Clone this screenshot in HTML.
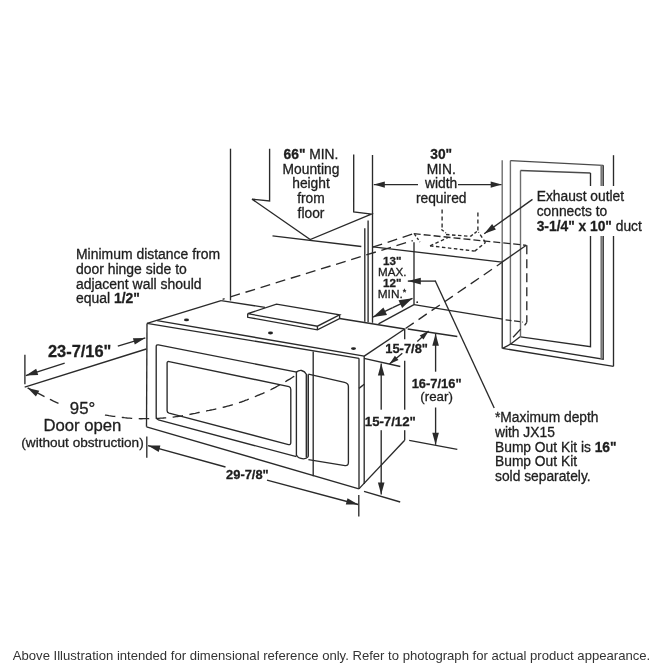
<!DOCTYPE html>
<html><head><meta charset="utf-8"><style>
html,body{margin:0;padding:0;background:#fff;}
svg{display:block;filter:grayscale(1);}
text{font-family:"Liberation Sans",sans-serif;fill:#1e1e1e;stroke:#1e1e1e;stroke-width:0.3px;}
</style></head><body>
<svg width="665" height="665" viewBox="0 0 665 665">
<rect width="665" height="665" fill="#fff"/>
<path d="M230.5,148.7 L230.5,300.5" stroke="#2a2a2a" stroke-width="1.35" fill="none"/>
<path d="M269.6,148.7 L269.6,200.9 L252.0,199.1 L310.2,239.5 L371.4,214.0 L353.7,211.9 L353.7,154.6" stroke="#2a2a2a" stroke-width="1.35" fill="none"/>
<path d="M272.5,235.8 L361.3,246.5" stroke="#2a2a2a" stroke-width="1.35" fill="none"/>
<path d="M364.8,228.3 L364.8,321.7" stroke="#2a2a2a" stroke-width="1.35" fill="none"/>
<path d="M368.1,220.5 L368.1,322.2" stroke="#2a2a2a" stroke-width="1.35" fill="none"/>
<path d="M372.5,155.0 L372.5,322.8" stroke="#2a2a2a" stroke-width="1.35" fill="none"/>
<text x="311" y="158.5" text-anchor="middle" style="font-size:13.8px;font-weight:400"><tspan font-weight="700">66"</tspan> MIN.</text>
<text x="311" y="173.5" text-anchor="middle" style="font-size:13.8px;font-weight:400">Mounting</text>
<text x="311" y="188.3" text-anchor="middle" style="font-size:13.8px;font-weight:400">height</text>
<text x="311" y="203" text-anchor="middle" style="font-size:13.8px;font-weight:400">from</text>
<text x="311" y="217.7" text-anchor="middle" style="font-size:13.8px;font-weight:400">floor</text>
<path d="M418.0,184.6 L373.8,184.6" stroke="#2a2a2a" stroke-width="1.35" fill="none"/>
<path d="M373.8,184.6 L384.8,181.5 L384.8,187.7 Z" fill="#2a2a2a" stroke="none"/>
<path d="M458.0,184.6 L501.7,184.6" stroke="#2a2a2a" stroke-width="1.35" fill="none"/>
<path d="M501.7,184.6 L490.7,187.7 L490.7,181.5 Z" fill="#2a2a2a" stroke="none"/>
<path d="M502.2,160.3 L502.2,262.1" stroke="#6e6e6e" stroke-width="1.4" fill="none"/>
<path d="M502.2,262.1 L502.2,348.4" stroke="#2a2a2a" stroke-width="1.35" fill="none"/>
<text x="441.2" y="158.8" text-anchor="middle" style="font-size:13.8px;font-weight:700">30"</text>
<text x="441.2" y="173.8" text-anchor="middle" style="font-size:13.8px;font-weight:400">MIN.</text>
<text x="441.2" y="188.3" text-anchor="middle" style="font-size:13.8px;font-weight:400">width</text>
<text x="441.2" y="203.2" text-anchor="middle" style="font-size:13.8px;font-weight:400">required</text>
<path d="M510.4,344.2 L510.4,160.6" stroke="#6e6e6e" stroke-width="1.4" fill="none"/>
<path d="M510.4,160.6 L603.2,165.3" stroke="#4a4a4a" stroke-width="1.35" fill="none"/>
<path d="M603.2,165.3 L603.2,359.1 L510.4,344.2" stroke="#2a2a2a" stroke-width="1.35" fill="none"/>
<path d="M601.5,165.2 L601.5,358.8" stroke="#777" stroke-width="2.2" fill="none"/>
<path d="M520.5,336.8 L520.5,170.5" stroke="#6e6e6e" stroke-width="1.4" fill="none"/>
<path d="M520.5,170.5 L590.5,173.0" stroke="#4a4a4a" stroke-width="1.35" fill="none"/>
<path d="M590.5,173.0 L590.5,346.7 L520.5,336.8" stroke="#2a2a2a" stroke-width="1.35" fill="none"/>
<path d="M613.5,155.2 L613.5,366.3" stroke="#2a2a2a" stroke-width="1.35" fill="none"/>
<path d="M502.6,348.4 L613.5,366.3" stroke="#2a2a2a" stroke-width="1.35" fill="none"/>
<path d="M502.6,348.4 L510.4,344.2" stroke="#2a2a2a" stroke-width="1.35" fill="none"/>
<path d="M510.4,344.2 L520.1,336.8" stroke="#2a2a2a" stroke-width="1.35" fill="none"/>
<rect x="534" y="186" width="131" height="50" fill="#fff"/>
<text x="536.7" y="201" text-anchor="start" style="font-size:13.8px;font-weight:400">Exhaust outlet</text>
<text x="536.7" y="215.8" text-anchor="start" style="font-size:13.8px;font-weight:400">connects to</text>
<text x="536.7" y="231" text-anchor="start" style="font-size:13.8px;font-weight:400"><tspan font-weight="700">3-1/4" x 10"</tspan> duct</text>
<path d="M532.5,199.4 L484.2,233.7" stroke="#2a2a2a" stroke-width="1.35" fill="none"/>
<path d="M484.2,233.7 L492.1,224.1 L495.9,229.4 Z" fill="#2a2a2a" stroke="none"/>
<path d="M372.6,247.2 L413.7,233.7" stroke="#2a2a2a" stroke-width="1.35" fill="none" stroke-dasharray="10,5.8"/>
<path d="M413.7,233.7 L526.3,245.3" stroke="#2a2a2a" stroke-width="1.35" fill="none" stroke-dasharray="7,3"/>
<path d="M230.4,296.9 L412.8,240.6" stroke="#2a2a2a" stroke-width="1.35" fill="none" stroke-dasharray="10,5.8"/>
<path d="M222.6,299.3 L224.6,298.7" stroke="#2a2a2a" stroke-width="1.35" fill="none"/>
<path d="M414.5,234.2 L420.0,242.0" stroke="#2a2a2a" stroke-width="1.35" fill="none" stroke-dasharray="2.5,2"/>
<path d="M373.0,246.9 L502.0,262.1" stroke="#2a2a2a" stroke-width="1.35" fill="none"/>
<path d="M502.0,262.1 L526.3,245.3" stroke="#2a2a2a" stroke-width="1.35" fill="none"/>
<path d="M526.8,245.3 L526.8,322.3" stroke="#2a2a2a" stroke-width="1.35" fill="none" stroke-dasharray="9,5"/>
<path d="M526.8,322.3 L524.6,325.4" stroke="#2a2a2a" stroke-width="1.35" fill="none"/>
<path d="M414.0,242.3 L414.0,304.8" stroke="#2a2a2a" stroke-width="1.35" fill="none"/>
<path d="M378.5,323.8 L414.0,304.6" stroke="#2a2a2a" stroke-width="1.35" fill="none"/>
<path d="M414.0,304.6 L502.6,319.2" stroke="#2a2a2a" stroke-width="1.35" fill="none"/>
<path d="M505.6,319.8 L523.0,322.1" stroke="#2a2a2a" stroke-width="1.35" fill="none" stroke-dasharray="6,2.5"/>
<path d="M513.1,337.2 L520.6,329.1" stroke="#2a2a2a" stroke-width="1.35" fill="none"/>
<path d="M405.5,328.5 L502.2,262.3" stroke="#2a2a2a" stroke-width="1.35" fill="none" stroke-dasharray="10,5.8"/>
<path d="M442.1,209.5 L442.1,229.5" stroke="#2a2a2a" stroke-width="1.35" fill="none" stroke-dasharray="4,3"/>
<path d="M477.9,212.6 L477.9,231.2" stroke="#2a2a2a" stroke-width="1.35" fill="none" stroke-dasharray="4,3"/>
<path d="M441.4,229.5 L446.0,233.0" stroke="#2a2a2a" stroke-width="1.35" fill="none" stroke-dasharray="3,2"/>
<path d="M446.0,234.5 L470.5,236.4" stroke="#2a2a2a" stroke-width="1.35" fill="none" stroke-dasharray="3.5,2.5"/>
<path d="M470.5,236.4 L477.5,231.0" stroke="#2a2a2a" stroke-width="1.35" fill="none" stroke-dasharray="3,2"/>
<path d="M430.0,245.8 L448.0,237.5" stroke="#2a2a2a" stroke-width="1.35" fill="none" stroke-dasharray="3.5,2.5"/>
<path d="M430.0,245.8 L474.7,251.1" stroke="#2a2a2a" stroke-width="1.35" fill="none" stroke-dasharray="3.5,2.5"/>
<path d="M474.7,251.1 L485.5,242.5" stroke="#2a2a2a" stroke-width="1.35" fill="none" stroke-dasharray="3.5,2.5"/>
<path d="M485.5,242.5 L478.5,232.0" stroke="#2a2a2a" stroke-width="1.35" fill="none" stroke-dasharray="3.5,2.5"/>
<text x="392.2" y="264.7" text-anchor="middle" style="font-size:11.6px;font-weight:700">13"</text>
<text x="392.2" y="275.8" text-anchor="middle" style="font-size:11.6px;font-weight:400">MAX.</text>
<text x="392.2" y="286.9" text-anchor="middle" style="font-size:11.6px;font-weight:700">12"</text>
<text x="392" y="297.7" text-anchor="middle" style="font-size:11.8px;font-weight:400">MIN.<tspan style="font-size:9px" dy="-2.5">*</tspan></text>
<path d="M435.8,281.1 L407.8,281.1" stroke="#2a2a2a" stroke-width="1.35" fill="none"/>
<path d="M407.8,281.1 L420.8,277.8 L420.8,284.4 Z" fill="#2a2a2a" stroke="none"/>
<path d="M435.2,280.7 L494.2,408.0" stroke="#2a2a2a" stroke-width="1.35" fill="none"/>
<path d="M392.7,307.7 L373.0,317.1" stroke="#2a2a2a" stroke-width="1.35" fill="none"/>
<path d="M373.0,317.1 L383.4,307.5 L387.0,315.1 Z" fill="#2a2a2a" stroke="none"/>
<path d="M392.7,307.7 L412.5,298.3" stroke="#2a2a2a" stroke-width="1.35" fill="none"/>
<path d="M412.5,298.3 L402.1,307.9 L398.5,300.3 Z" fill="#2a2a2a" stroke="none"/>
<circle cx="417.2" cy="302.2" r="0.9" fill="#222"/>
<text x="76" y="259.2" text-anchor="start" style="font-size:13.95px;font-weight:400">Minimum distance from</text>
<text x="76" y="273.9" text-anchor="start" style="font-size:13.95px;font-weight:400">door hinge side to</text>
<text x="76" y="288.5" text-anchor="start" style="font-size:13.95px;font-weight:400">adjacent wall should</text>
<text x="76" y="303.1" text-anchor="start" style="font-size:13.95px;font-weight:400">equal <tspan font-weight="700">1/2"</tspan></text>
<path d="M147.0,323.4 L221.1,300.7" stroke="#2a2a2a" stroke-width="1.35" fill="none"/>
<path d="M221.1,300.7 L265.0,307.3" stroke="#2a2a2a" stroke-width="1.35" fill="none"/>
<path d="M339.6,318.5 L404.7,329.0" stroke="#2a2a2a" stroke-width="1.35" fill="none"/>
<path d="M364.2,356.1 L404.7,329.0" stroke="#2a2a2a" stroke-width="1.35" fill="none"/>
<path d="M147.0,323.4 L359.0,358.3" stroke="#2a2a2a" stroke-width="1.35" fill="none"/>
<path d="M157.1,320.6 L364.2,356.1" stroke="#2a2a2a" stroke-width="1.35" fill="none"/>
<path d="M147.0,323.4 L146.5,426.8" stroke="#2a2a2a" stroke-width="1.35" fill="none"/>
<path d="M146.5,426.8 L358.9,488.9" stroke="#2a2a2a" stroke-width="1.35" fill="none"/>
<path d="M359.0,358.3 L359.0,488.9" stroke="#2a2a2a" stroke-width="1.35" fill="none"/>
<path d="M364.2,356.1 L364.2,484.0" stroke="#2a2a2a" stroke-width="1.35" fill="none"/>
<path d="M404.7,329.0 L404.7,339.2" stroke="#2a2a2a" stroke-width="1.35" fill="none"/>
<path d="M404.7,360.8 L404.7,440.3" stroke="#2a2a2a" stroke-width="1.35" fill="none"/>
<path d="M404.7,440.3 L358.9,488.9" stroke="#2a2a2a" stroke-width="1.35" fill="none"/>
<path d="M247.7,313.7 L276.5,304.1 L339.6,314.9 L317.4,326.2 Z" stroke="#2a2a2a" stroke-width="1.35" fill="none"/>
<path d="M247.7,313.7 L247.7,317.3 L317.4,329.8 L339.6,318.5 L339.6,314.9" stroke="#2a2a2a" stroke-width="1.35" fill="none"/>
<path d="M317.4,326.2 L317.4,329.8" stroke="#2a2a2a" stroke-width="1.35" fill="none"/>
<ellipse cx="186.5" cy="319.9" rx="2.5" ry="1.4" fill="#222"/>
<ellipse cx="270.5" cy="333" rx="2.5" ry="1.4" fill="#222"/>
<ellipse cx="353.5" cy="348.6" rx="2.5" ry="1.4" fill="#222"/>
<path d="M156.2,346.5 Q156.2,344.5 158.4,344.9 L296.8,372.1 M156.2,346.5 L156.2,417.3 Q156.2,419.3 158.4,419.9 L296.4,456.7" stroke="#2a2a2a" stroke-width="1.35" fill="none"/>
<path d="M167.1,363 Q167.1,361.2 169.1,361.6 L289,386.6 Q290.8,387.2 290.8,389.5 L290.8,442.5 Q290.8,445 288.5,444.6 L169.1,413.2 Q167.1,412.6 167.1,410.8 Z" stroke="#2a2a2a" stroke-width="1.35" fill="none"/>
<rect x="306.3" y="374.5" width="2" height="82" fill="#c8c8c8"/>
<path d="M296.4,456 L296.4,372.1 Q299,370 301.6,370.5 Q305,371.5 306.3,374.2 L306.3,457.5" stroke="#2a2a2a" stroke-width="1.35" fill="none"/>
<path d="M296.4,455 Q298,458.6 303.5,458.8 Q306.5,458.6 308.3,456.6" stroke="#2a2a2a" stroke-width="1.35" fill="none"/>
<path d="M308.3,374.2 L308.3,456.8" stroke="#2a2a2a" stroke-width="1.35" fill="none"/>
<path d="M308.4,374.2 L344.5,382.4 Q348.4,383.2 348.4,386.5 L348.4,462.5 Q348.4,466 345,465.6 L308.4,459.7" stroke="#2a2a2a" stroke-width="1.35" fill="none"/>
<path d="M313.2,351.6 L313.2,476.2" stroke="#2a2a2a" stroke-width="1.35" fill="none"/>
<path d="M359.0,388.4 L364.2,384.2" stroke="#2a2a2a" stroke-width="1.35" fill="none"/>
<path d="M58.5,403.3 L56.2,402.3 L53.5,401.1 L50.7,399.7 L47.8,398.2 L44.7,396.7 L41.7,395.2 L38.8,393.7 L36.0,392.2 L33.4,390.9 L31.1,389.7 L29.1,388.7 L27.6,387.9" stroke="#2a2a2a" stroke-width="1.35" fill="none" stroke-dasharray="9.5,6"/>
<path d="M294.3,376.3 L293.5,376.7 L292.6,377.3 L291.5,378.0 L290.2,378.8 L288.8,379.6 L287.4,380.4 L285.9,381.3 L284.3,382.2 L282.8,383.1 L281.4,383.9 L280.0,384.7 L278.8,385.4 L277.6,386.0 L276.5,386.7 L275.4,387.3 L274.3,387.8 L273.3,388.4 L272.2,388.9 L271.2,389.5 L270.1,390.0 L269.1,390.5 L268.1,391.0 L267.0,391.5 L266.0,392.0 L265.0,392.5 L263.9,392.9 L262.9,393.4 L261.8,393.8 L260.8,394.2 L259.8,394.6 L258.8,395.0 L257.7,395.4 L256.7,395.8 L255.6,396.3 L254.6,396.7 L253.5,397.1 L252.4,397.5 L251.4,398.0 L250.3,398.4 L249.2,398.9 L248.1,399.3 L247.0,399.8 L245.9,400.2 L244.8,400.6 L243.7,401.1 L242.5,401.5 L241.3,402.0 L240.0,402.4 L238.7,402.8 L237.4,403.3 L236.0,403.7 L234.7,404.1 L233.3,404.5 L231.8,405.0 L230.4,405.4 L228.9,405.8 L227.4,406.2 L225.9,406.6 L224.4,407.0 L222.8,407.4 L221.2,407.8 L219.6,408.2 L217.9,408.5 L216.2,408.9 L214.5,409.3 L212.8,409.7 L211.0,410.0 L209.3,410.4 L207.5,410.7 L205.8,411.1 L204.0,411.4 L202.3,411.8 L200.6,412.2 L198.8,412.5 L197.0,412.9 L195.3,413.3 L193.5,413.6 L191.7,414.0 L189.9,414.4 L188.2,414.7 L186.5,415.0 L184.9,415.3 L183.2,415.6 L181.7,415.9 L180.2,416.1 L178.8,416.4 L177.4,416.6 L176.0,416.7 L174.7,416.9 L173.4,417.1 L172.2,417.2 L170.9,417.3 L169.7,417.5 L168.5,417.6 L167.2,417.7 L166.0,417.8 L164.8,417.9 L163.6,418.0 L162.5,418.1 L161.3,418.1 L160.2,418.2 L159.1,418.3 L158.0,418.3 L156.9,418.4 L155.7,418.4 L154.5,418.4 L153.3,418.5 L152.0,418.5 L150.6,418.5 L149.2,418.6 L147.8,418.6 L146.3,418.6 L144.8,418.6 L143.3,418.6 L141.7,418.7 L140.2,418.7 L138.7,418.6 L137.2,418.6 L135.7,418.6 L134.2,418.5 L132.8,418.4 L131.3,418.3 L129.9,418.2 L128.5,418.1 L127.2,418.0 L125.8,417.8 L124.4,417.7 L123.0,417.5 L121.6,417.3 L120.2,417.2 L118.8,417.0 L117.4,416.8 L116.0,416.6 L114.6,416.4 L113.2,416.3 L111.7,416.1 L110.3,415.9 L108.9,415.7 L107.5,415.4 L106.0,415.2 L104.5,415.0 L103.1,414.7 L101.5,414.5 L100.0,414.2" stroke="#2a2a2a" stroke-width="1.35" fill="none" stroke-dasharray="10.5,6.5"/>
<path d="M27.6,387.9 L39.3,390.7 L35.9,396.6 Z" fill="#2a2a2a" stroke="none"/>
<text x="82.5" y="413.6" text-anchor="middle" style="font-size:16.8px;font-weight:400">95°</text>
<text x="82.4" y="430.9" text-anchor="middle" style="font-size:16.7px;font-weight:400">Door open</text>
<text x="82.5" y="447" text-anchor="middle" style="font-size:13.6px;font-weight:400">(without obstruction)</text>
<path d="M24.9,354.7 L24.9,384.2" stroke="#2a2a2a" stroke-width="1.35" fill="none"/>
<path d="M64.7,363.2 L25.8,375.6" stroke="#2a2a2a" stroke-width="1.35" fill="none"/>
<path d="M25.8,375.6 L36.2,368.8 L38.2,375.1 Z" fill="#2a2a2a" stroke="none"/>
<path d="M117.8,346.2 L145.3,337.9" stroke="#2a2a2a" stroke-width="1.35" fill="none"/>
<path d="M145.3,337.9 L134.8,344.5 L132.9,338.2 Z" fill="#2a2a2a" stroke="none"/>
<path d="M24.7,387.2 L146.3,349.0" stroke="#2a2a2a" stroke-width="1.35" fill="none"/>
<text x="79.7" y="357.1" text-anchor="middle" style="font-size:16.4px;font-weight:700">23-7/16"</text>
<path d="M146.8,436.6 L146.8,457.7" stroke="#2a2a2a" stroke-width="1.35" fill="none"/>
<path d="M358.8,495.0 L358.8,516.6" stroke="#2a2a2a" stroke-width="1.35" fill="none"/>
<path d="M225.5,467.0 L148.0,445.6" stroke="#2a2a2a" stroke-width="1.35" fill="none"/>
<path d="M148.0,445.6 L160.4,445.6 L158.7,452.0 Z" fill="#2a2a2a" stroke="none"/>
<path d="M267.0,480.1 L358.2,504.5" stroke="#2a2a2a" stroke-width="1.35" fill="none"/>
<path d="M358.2,504.5 L345.8,504.6 L347.5,498.2 Z" fill="#2a2a2a" stroke="none"/>
<text x="247.4" y="478.6" text-anchor="middle" style="font-size:12.9px;font-weight:700">29-7/8"</text>
<path d="M364.0,358.3 L400.3,366.5" stroke="#2a2a2a" stroke-width="1.35" fill="none"/>
<path d="M364.0,491.4 L400.2,502.0" stroke="#2a2a2a" stroke-width="1.35" fill="none"/>
<path d="M381.2,412.0 L381.2,363.6" stroke="#2a2a2a" stroke-width="1.35" fill="none"/>
<path d="M381.2,363.6 L384.5,375.6 L377.9,375.6 Z" fill="#2a2a2a" stroke="none"/>
<path d="M381.2,428.0 L381.2,494.4" stroke="#2a2a2a" stroke-width="1.35" fill="none"/>
<path d="M381.2,494.4 L377.9,482.4 L384.5,482.4 Z" fill="#2a2a2a" stroke="none"/>
<rect x="365.1" y="409.7" width="53" height="20.5" fill="#fff"/>
<text x="390.3" y="426.4" text-anchor="middle" style="font-size:13.2px;font-weight:700">15-7/12"</text>
<path d="M407.7,329.0 L457.3,336.5" stroke="#2a2a2a" stroke-width="1.35" fill="none"/>
<path d="M417.3,341.5 L428.6,331.0" stroke="#2a2a2a" stroke-width="1.35" fill="none"/>
<path d="M428.6,331.0 L423.5,339.5 L419.7,335.4 Z" fill="#2a2a2a" stroke="none"/>
<path d="M402.3,353.2 L389.5,364.1" stroke="#2a2a2a" stroke-width="1.35" fill="none"/>
<path d="M389.5,364.1 L394.9,355.8 L398.5,360.1 Z" fill="#2a2a2a" stroke="none"/>
<text x="406.6" y="352.7" text-anchor="middle" style="font-size:12.9px;font-weight:700">15-7/8"</text>
<path d="M409.2,440.3 L457.3,449.3" stroke="#2a2a2a" stroke-width="1.35" fill="none"/>
<path d="M435.6,371.7 L435.6,333.8" stroke="#2a2a2a" stroke-width="1.35" fill="none"/>
<path d="M435.6,333.8 L438.9,345.8 L432.3,345.8 Z" fill="#2a2a2a" stroke="none"/>
<path d="M435.6,407.5 L435.6,444.8" stroke="#2a2a2a" stroke-width="1.35" fill="none"/>
<path d="M435.6,444.8 L432.3,432.8 L438.9,432.8 Z" fill="#2a2a2a" stroke="none"/>
<text x="436.6" y="387.9" text-anchor="middle" style="font-size:12.9px;font-weight:700">16-7/16"</text>
<text x="436.6" y="401.1" text-anchor="middle" style="font-size:13.3px;font-weight:400">(rear)</text>
<text x="495" y="422.2" text-anchor="start" style="font-size:13.8px;font-weight:400">*Maximum depth</text>
<text x="495" y="436.9" text-anchor="start" style="font-size:13.8px;font-weight:400">with JX15</text>
<text x="495" y="451.59999999999997" text-anchor="start" style="font-size:13.8px;font-weight:400">Bump Out Kit is <tspan font-weight="700">16"</tspan></text>
<text x="495" y="466.29999999999995" text-anchor="start" style="font-size:13.8px;font-weight:400">Bump Out Kit</text>
<text x="495" y="481.0" text-anchor="start" style="font-size:13.8px;font-weight:400">sold separately.</text>
<text x="12.8" y="660" style="font-size:13.1px;fill:#333;stroke:none">Above Illustration intended for dimensional reference only. Refer to photograph for actual product appearance.</text>
</svg>
</body></html>
